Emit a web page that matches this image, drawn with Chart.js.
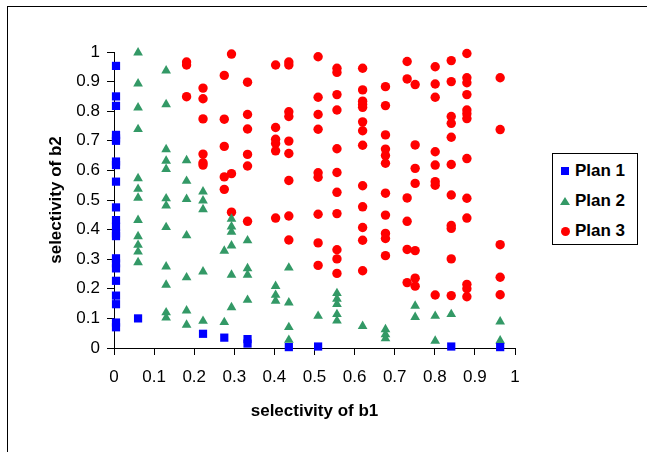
<!DOCTYPE html>
<html>
<head>
<meta charset="utf-8">
<script src="https://cdn.jsdelivr.net/npm/chart.js@4.4.0/dist/chart.umd.min.js"></script>
<style>
  html, body { margin: 0; padding: 0; background: #fff; overflow: hidden; }
  #wrap { position: relative; width: 647px; height: 452px; }
  #frame { position: absolute; left: 7px; top: 6px; width: 700px; height: 500px;
           border-left: 1px solid #000; border-top: 1px solid #000; }
  #chart { position: absolute; left: 0; top: 0; }
  #legend { position: absolute; left: 552px; top: 153px; width: 84px; height: 90px;
            border: 1px solid #000; background: #fff;
            font: bold 17px "Liberation Sans", Arial, sans-serif; color: #000; }
  .row { position: absolute; left: 0; height: 20px; line-height: 20px; }
  .row span.txt { position: absolute; left: 22px; top: 0; white-space: nowrap; }
  .mk { position: absolute; }
</style>
</head>
<body>
<div id="wrap">
  <div id="frame"></div>
  <canvas id="chart" width="647" height="452"></canvas>
  <div id="legend"></div>
</div>
<script>
// plan names and colours
var planNames = ['Plan 1', 'Plan 2', 'Plan 3'];
var planColors = ['#0000ff', '#339966', '#ff0000'];
var planStyles = ['rect', 'triangle', 'circle'];

// tick values for both axes
var tickValues = [0, 0.1, 0.2, 0.3, 0.4, 0.5, 0.6, 0.7, 0.8, 0.9, 1];

// Plan 1 (selectivity of b1, selectivity of b2)
var plan1X = [0.005, 0.005, 0.005, 0.005, 0.005, 0.005, 0.005, 0.005, 0.005, 0.005,
              0.005, 0.005, 0.005, 0.005, 0.005, 0.005, 0.005, 0.005, 0.005, 0.005,
              0.005, 0.005, 0.06, 0.222, 0.275, 0.333, 0.333, 0.436, 0.509, 0.841, 0.963];
var plan1Y = [0.953, 0.85, 0.818, 0.72, 0.708, 0.70, 0.63, 0.618, 0.562, 0.475,
              0.432, 0.41, 0.387, 0.378, 0.303, 0.286, 0.269, 0.227, 0.177, 0.148,
              0.086, 0.07, 0.1, 0.048, 0.035, 0.03, 0.015, 0.003, 0.005, 0.005, 0.003];

// Plan 2
var plan2X = [0.06, 0.06, 0.06, 0.06, 0.06, 0.06, 0.06, 0.06, 0.06, 0.06, 0.06, 0.06,
              0.13, 0.13, 0.13, 0.13, 0.13, 0.13, 0.13, 0.13, 0.13, 0.13, 0.13, 0.13,
              0.181, 0.181, 0.181, 0.181, 0.181, 0.181, 0.181,
              0.222, 0.222, 0.222, 0.222, 0.222,
              0.275, 0.275,
              0.293, 0.293, 0.293, 0.293, 0.293, 0.293,
              0.333, 0.333, 0.333, 0.333,
              0.403, 0.403, 0.403,
              0.436, 0.436, 0.436, 0.436,
              0.509,
              0.556, 0.556, 0.556, 0.556, 0.556,
              0.62,
              0.677, 0.677, 0.677,
              0.751, 0.751,
              0.801, 0.801,
              0.841,
              0.963, 0.963];
var plan2Y = [0.998, 0.893, 0.812, 0.739, 0.573, 0.537, 0.507, 0.432, 0.377, 0.348, 0.325, 0.289,
              0.937, 0.823, 0.671, 0.632, 0.604, 0.505, 0.481, 0.408, 0.275, 0.213, 0.12, 0.102,
              0.634, 0.564, 0.503, 0.38, 0.238, 0.126, 0.078,
              0.528, 0.498, 0.468, 0.258, 0.091,
              0.328, 0.087,
              0.436, 0.41, 0.392, 0.346, 0.247, 0.137,
              0.363, 0.269, 0.247, 0.162,
              0.209, 0.179, 0.159,
              0.271, 0.153, 0.07, 0.027,
              0.108,
              0.185, 0.166, 0.148, 0.114, 0.092,
              0.074,
              0.063, 0.046, 0.032,
              0.142, 0.104,
              0.108, 0.024,
              0.114,
              0.089, 0.025];

// Plan 3
var plan3X = [0.181, 0.181, 0.181,
              0.222, 0.222, 0.222, 0.222, 0.222, 0.222,
              0.275, 0.275, 0.275, 0.275, 0.275,
              0.293, 0.293, 0.293,
              0.333, 0.333, 0.333, 0.333, 0.333, 0.333,
              0.403, 0.403, 0.403, 0.403, 0.403, 0.403,
              0.436, 0.436, 0.436, 0.436, 0.436, 0.436, 0.436, 0.436, 0.436,
              0.509, 0.509, 0.509, 0.509, 0.509, 0.509, 0.509, 0.509, 0.509,
              0.556, 0.556, 0.556, 0.556, 0.556, 0.556, 0.556, 0.556, 0.556, 0.556, 0.556,
              0.62, 0.62, 0.62, 0.62, 0.62, 0.62, 0.62, 0.62, 0.62, 0.62, 0.62, 0.62, 0.62,
              0.677, 0.677, 0.677, 0.677, 0.677, 0.677, 0.677, 0.677, 0.677, 0.677, 0.677,
              0.731, 0.731, 0.731, 0.731, 0.731, 0.731,
              0.751, 0.751, 0.751, 0.751, 0.751, 0.751, 0.751,
              0.801, 0.801, 0.801, 0.801, 0.801, 0.801, 0.801, 0.801,
              0.841, 0.841, 0.841, 0.841, 0.841, 0.841, 0.841, 0.841, 0.841, 0.841, 0.841,
              0.88, 0.88, 0.88, 0.88, 0.88, 0.88, 0.88, 0.88, 0.88, 0.88, 0.88, 0.88, 0.88,
              0.963, 0.963, 0.963, 0.963, 0.963];
var plan3Y = [0.966, 0.956, 0.849,
              0.878, 0.842, 0.774, 0.655, 0.626, 0.618,
              0.921, 0.773, 0.681, 0.578, 0.536,
              0.993, 0.589, 0.459,
              0.898, 0.789, 0.74, 0.654, 0.615, 0.428,
              0.956, 0.745, 0.705, 0.691, 0.666, 0.439,
              0.966, 0.956, 0.798, 0.782, 0.699, 0.657, 0.566, 0.446, 0.365,
              0.984, 0.847, 0.789, 0.739, 0.592, 0.577, 0.452, 0.355, 0.279,
              0.945, 0.931, 0.856, 0.804, 0.673, 0.593, 0.526, 0.454, 0.332, 0.301, 0.252,
              0.945, 0.872, 0.834, 0.823, 0.813, 0.764, 0.734, 0.685, 0.548, 0.477, 0.407, 0.364, 0.261,
              0.883, 0.819, 0.72, 0.672, 0.65, 0.624, 0.523, 0.449, 0.387, 0.37, 0.312,
              0.968, 0.909, 0.507, 0.428, 0.333, 0.221,
              0.89, 0.686, 0.607, 0.556, 0.329, 0.236, 0.209,
              0.95, 0.892, 0.847, 0.663, 0.618, 0.562, 0.55, 0.179,
              0.971, 0.9, 0.782, 0.759, 0.712, 0.62, 0.517, 0.414, 0.404, 0.301, 0.177,
              0.995, 0.913, 0.896, 0.856, 0.804, 0.791, 0.775, 0.64, 0.506, 0.439, 0.215, 0.2, 0.173,
              0.913, 0.738, 0.349, 0.239, 0.18];

var FONT = '"Liberation Sans", Arial, sans-serif';

function pairs(xs, ys) {
    return xs.map(function(x, i) { return { x: x, y: ys[i] }; });
}

var seriesX = [plan1X, plan2X, plan3X];
var seriesY = [plan1Y, plan2Y, plan3Y];
var pointRadius = [5.8, 5.6, 4.7];

var datasets = planNames.map(function(name, i) {
    return {
        label: name,
        data: pairs(seriesX[i], seriesY[i]),
        pointStyle: planStyles[i],
        pointRadius: pointRadius[i],
        pointBackgroundColor: planColors[i],
        pointBorderColor: planColors[i],
        pointBorderWidth: 0,
        showLine: false,
        clip: false
    };
});

function tickLabel(v) {
    return String(Math.round(v * 10) / 10);
}

function axis(titleText, titlePadding, tickPadding, fit) {
    return {
        type: 'linear',
        min: 0,
        max: 1,
        afterFit: fit,
        afterBuildTicks: function(scale) {
            scale.ticks = tickValues.map(function(v) { return { value: v }; });
        },
        ticks: {
            autoSkip: false,
            maxRotation: 0,
            padding: tickPadding,
            color: '#000',
            font: { family: FONT, size: 17 },
            callback: tickLabel
        },
        grid: {
            drawOnChartArea: false,
            drawTicks: true,
            tickLength: 7,
            color: '#000',
            lineWidth: 1
        },
        border: { display: true, color: '#000', width: 1 },
        title: {
            display: true,
            text: titleText,
            color: '#000',
            font: { family: FONT, size: 17, weight: 'bold' },
            padding: titlePadding
        }
    };
}

var ctx = document.getElementById('chart');
var chart = new Chart(ctx, {
    type: 'scatter',
    data: { datasets: datasets },
    options: {
        responsive: false,
        animation: false,
        events: [],
        layout: { padding: { left: 0, top: 52, right: 132, bottom: 0 } },
        plugins: {
            legend: { display: false },
            tooltip: { enabled: false }
        },
        scales: {
            x: axis('selectivity of b1', { top: 0, bottom: 30 }, 12,
                     function(s) { s.height = 104; }),
            y: axis('selectivity of b2', { top: 46, bottom: 0 }, 7,
                     function(s) { s.width = 114; })
        }
    }
});

// legend
var legend = document.getElementById('legend');
planNames.forEach(function(name, i) {
    var row = document.createElement('div');
    row.className = 'row';
    row.style.top = (7 + i * 30) + 'px';
    row.style.width = '84px';
    var mk = document.createElement('div');
    mk.className = 'mk';
    if (planStyles[i] === 'rect') {
        mk.style.cssText = 'left:8px;top:6px;width:8px;height:8px;background:' + planColors[i];
    } else if (planStyles[i] === 'triangle') {
        mk.style.cssText = 'left:7px;top:6px;width:0;height:0;border-left:5px solid transparent;' +
            'border-right:5px solid transparent;border-bottom:8px solid ' + planColors[i];
    } else {
        mk.style.cssText = 'left:8px;top:6px;width:9px;height:9px;border-radius:50%;background:' + planColors[i];
    }
    var txt = document.createElement('span');
    txt.className = 'txt';
    txt.textContent = name;
    row.appendChild(mk);
    row.appendChild(txt);
    legend.appendChild(row);
});
</script>
</body>
</html>
